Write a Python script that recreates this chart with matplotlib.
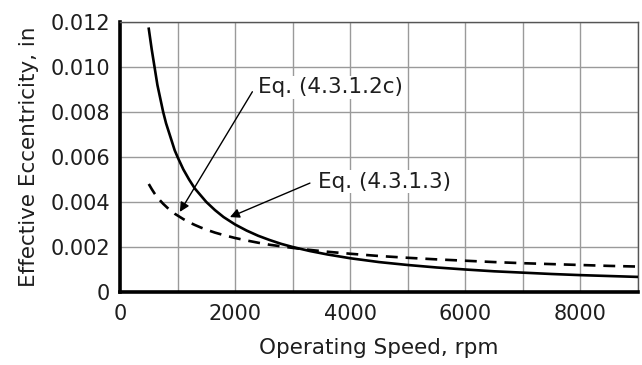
import matplotlib
matplotlib.use("Agg")
import matplotlib.pyplot as plt
import numpy as np

# speeds, rpm
speed = [500, 550, 600, 650, 700, 750, 800, 850, 900, 950, 1000, 1100, 1200,
         1300, 1400, 1500, 1650, 1800, 2000, 2200, 2400, 2600, 2800, 3000,
         3300, 3600, 4000, 4500, 5000, 5500, 6000, 6500, 7000, 7500, 8000,
         8500, 9000]
# Eq. (4.3.1.2c) - solid curve
ecc_solid = [0.0117, 0.0108, 0.0100, 0.0092, 0.0086, 0.0080, 0.0075, 0.0071,
             0.0067, 0.0063, 0.0060, 0.00545, 0.0050, 0.0046, 0.0043, 0.0040,
             0.00364, 0.00333, 0.0030, 0.00273, 0.0025, 0.00231, 0.00214,
             0.0020, 0.00182, 0.00167, 0.0015, 0.00133, 0.0012, 0.00109,
             0.0010, 0.00092, 0.00086, 0.0008, 0.00075, 0.00071, 0.00067]
# Eq. (4.3.1.3) - dashed curve
ecc_dash = [0.0048, 0.00458, 0.00438, 0.00421, 0.00406, 0.00392, 0.0038,
            0.00368, 0.00358, 0.00348, 0.0034, 0.00324, 0.0031, 0.00298,
            0.00287, 0.00277, 0.00264, 0.00253, 0.0024, 0.00229, 0.00219,
            0.0021, 0.00203, 0.00196, 0.00187, 0.00179, 0.0017, 0.0016,
            0.00152, 0.00145, 0.00139, 0.00133, 0.00128, 0.00124, 0.0012,
            0.00116, 0.00113]

x_ticks = [0, 2000, 4000, 6000, 8000]
y_ticks = [0, 0.002, 0.004, 0.006, 0.008, 0.010, 0.012]
y_labels = ['0', '0.002', '0.004', '0.006', '0.008', '0.010', '0.012']

plt.rcParams['font.family'] = ['DejaVu Sans']
fs = 15
txt = '#1e1e1e'

fig = plt.figure(figsize=(6.42, 3.65), dpi=100)
ax = fig.add_axes([120 / 642, 1 - 292 / 365, 518 / 642, 270 / 365])

ax.plot(speed, ecc_solid, color='black', lw=1.9, zorder=3)
ax.plot(speed, ecc_dash, color='black', lw=1.9, dashes=(4.5, 3), zorder=3)

ax.set_xlim(0, 9000)
ax.set_ylim(0, 0.012)
ax.set_xticks(x_ticks)
ax.set_xticks(np.arange(0, 9001, 1000), minor=True)
ax.set_yticks(y_ticks)
ax.set_yticklabels(y_labels)
ax.grid(True, which='both', color='#9a9a9a', lw=1.0, zorder=0)
ax.set_axisbelow(True)
ax.tick_params(which='both', length=0, labelsize=fs, colors=txt)
ax.tick_params(axis='x', pad=9)
ax.tick_params(axis='y', pad=7)

for side in ['top', 'right']:
    ax.spines[side].set_color('#555555')
    ax.spines[side].set_linewidth(1.0)
for side in ['left', 'bottom']:
    ax.spines[side].set_color('black')
    ax.spines[side].set_linewidth(2.6)

ax.set_xlabel('Operating Speed, rpm', fontsize=15.5, color=txt, labelpad=10)
ax.set_ylabel('Effective Eccentricity, in', fontsize=15.5, color=txt, labelpad=8)

arrow = dict(arrowstyle='-|>', color='black', lw=1.0, mutation_scale=14,
             shrinkA=0, shrinkB=0)
ax.annotate('', xy=(1040, 0.00356), xytext=(2300, 0.0089), arrowprops=arrow)
ax.annotate('', xy=(1910, 0.00333), xytext=(3300, 0.00484), arrowprops=arrow)

box = dict(facecolor='white', edgecolor='none', pad=1)
ax.text(2400, 0.0091, 'Eq. (4.3.1.2c)', fontsize=15.5, va='center',
        ha='left', color=txt, bbox=box, zorder=4)
ax.text(3440, 0.0049, 'Eq. (4.3.1.3)', fontsize=15.5, va='center',
        ha='left', color=txt, bbox=box, zorder=4)

fig.savefig('out.png', dpi=100)
